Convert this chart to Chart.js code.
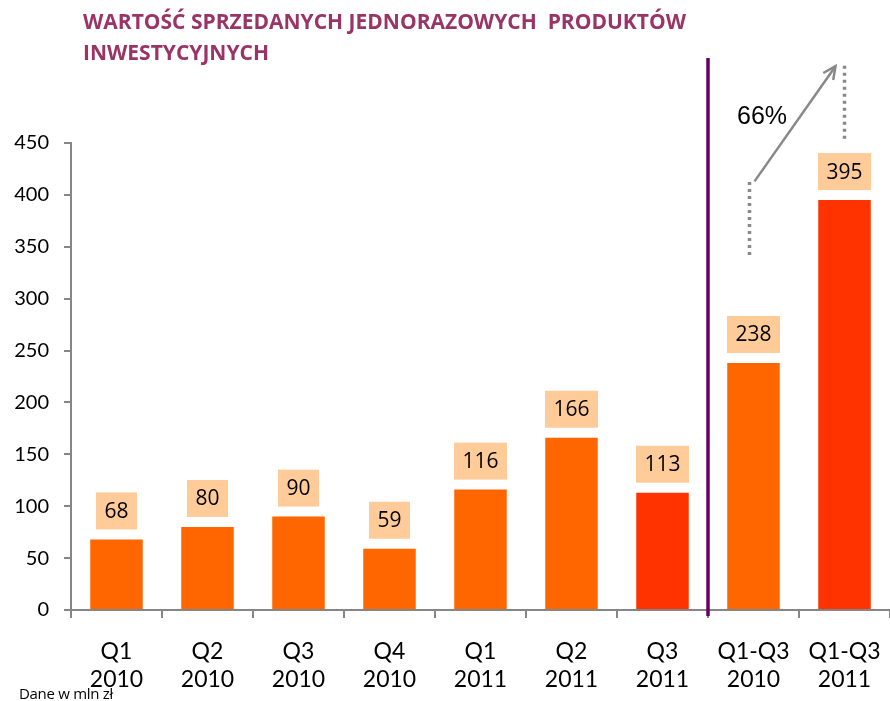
<!DOCTYPE html>
<html>
<head>
<meta charset="utf-8">
<script src="https://cdn.jsdelivr.net/npm/chart.js@4.4.1/dist/chart.umd.min.js"></script>
<style>
    body { margin: 0; background: #fff; }
    .wrap { position: relative; width: 890px; height: 701px; }
    .title {
        position: absolute; left: 83px; top: 6px;
        font-family: 'Open Sans', sans-serif; font-weight: 700; font-size: 21px;
        line-height: 31px; color: #9b3466; white-space: pre;
    }
    .note {
        position: absolute; left: 19px; top: 683px;
        font-family: 'Open Sans', sans-serif; font-size: 15px; color: #000;
        letter-spacing: -0.3px;
    }
</style>
</head>
<body>
<div class="wrap">
    <canvas id="salesChart" width="890" height="701"></canvas>
    <div class="title">WARTOŚĆ SPRZEDANYCH JEDNORAZOWYCH  PRODUKTÓW
INWESTYCYJNYCH</div>
    <div class="note">Dane w mln zł</div>
</div>
<script>
const periods = [["Q1", "2010"], ["Q2", "2010"], ["Q3", "2010"], ["Q4", "2010"], ["Q1", "2011"],
    ["Q2", "2011"], ["Q3", "2011"], ["Q1-Q3", "2010"], ["Q1-Q3", "2011"]];
const salesValues = [68, 80, 90, 59, 116, 166, 113, 238, 395];
const barColors = ["#ff6600", "#ff6600", "#ff6600", "#ff6600", "#ff6600", "#ff6600", "#ff3300", "#ff6600", "#ff3300"];
const yTicks = [0, 50, 100, 150, 200, 250, 300, 350, 400, 450];
const growthLabel = "66%";

// boxed value labels above each bar
const valueBoxes = {
    id: "valueBoxes",
    afterDatasetsDraw(chart) {
        const ctx = chart.ctx;
        const meta = chart.getDatasetMeta(0);
        ctx.save();
        ctx.font = "21px 'Open Sans'";
        ctx.textAlign = "center";
        ctx.textBaseline = "middle";
        meta.data.forEach((bar, i) => {
            const text = String(salesValues[i]);
            const w = ctx.measureText(text).width + 17;
            const h = 37;
            const bottom = bar.y - 10;
            ctx.fillStyle = "#ffcc99";
            ctx.fillRect(bar.x - w / 2, bottom - h, w, h);
            ctx.fillStyle = "#000";
            ctx.fillText(text, bar.x, bottom - h / 2 + 1);
        });
        ctx.restore();
    }
};

// separator line, dotted guides and growth arrow
const extras = {
    id: "extras",
    afterDraw(chart) {
        const ctx = chart.ctx;
        const x = chart.scales.x;
        const y = chart.scales.y;
        const sepX = (x.getPixelForValue(6) + x.getPixelForValue(7)) / 2;
        ctx.save();
        ctx.strokeStyle = "#660066";
        ctx.lineWidth = 3.5;
        ctx.beginPath();
        ctx.moveTo(sepX, 58);
        ctx.lineTo(sepX, y.bottom + 6);
        ctx.stroke();

        const lx = x.getPixelForValue(7) - 4;
        const rx = x.getPixelForValue(8);
        ctx.strokeStyle = "#888888";
        ctx.lineWidth = 3.5;
        ctx.setLineDash([3, 4]);
        ctx.beginPath();
        ctx.moveTo(lx, y.getPixelForValue(342));
        ctx.lineTo(lx, y.getPixelForValue(414));
        ctx.moveTo(rx, y.getPixelForValue(454));
        ctx.lineTo(rx, y.getPixelForValue(528));
        ctx.stroke();
        ctx.setLineDash([]);

        const ax1 = lx + 5, ay1 = y.getPixelForValue(413);
        const ax2 = rx - 9, ay2 = y.getPixelForValue(524);
        ctx.lineWidth = 2.5;
        ctx.beginPath();
        ctx.moveTo(ax1, ay1);
        ctx.lineTo(ax2, ay2);
        ctx.stroke();
        const ang = Math.atan2(ay2 - ay1, ax2 - ax1);
        const hl = 14;
        ctx.beginPath();
        ctx.moveTo(ax2 - hl * Math.cos(ang - 0.45), ay2 - hl * Math.sin(ang - 0.45));
        ctx.lineTo(ax2, ay2);
        ctx.lineTo(ax2 - hl * Math.cos(ang + 0.45), ay2 - hl * Math.sin(ang + 0.45));
        ctx.stroke();

        ctx.fillStyle = "#000";
        ctx.font = "25px 'Liberation Sans'";
        ctx.textAlign = "center";
        ctx.textBaseline = "middle";
        ctx.fillText(growthLabel, 762, 117);
        ctx.restore();
    }
};

Chart.defaults.font.family = "Lato, 'Liberation Sans', Arial, sans-serif";
Chart.defaults.color = "#000";

new Chart(document.getElementById("salesChart"), {
    type: "bar",
    data: {
        labels: periods,
        datasets: [{
            data: salesValues,
            backgroundColor: barColors,
            barPercentage: 0.577,
            categoryPercentage: 1
        }]
    },
    options: {
        responsive: false,
        animation: false,
        layout: { padding: { top: 143, left: 0, right: 0, bottom: 0 } },
        plugins: { legend: { display: false }, tooltip: { enabled: false } },
        scales: {
            x: {
                offset: true,
                grid: { offset: true, drawOnChartArea: false, tickLength: 8, color: "#868686", lineWidth: 2 },
                border: { color: "#868686", width: 2 },
                ticks: { font: { size: 23 }, padding: 20, maxRotation: 0, autoSkip: false },
                afterFit(scale) {
                    scale.height = 91;
                    scale.paddingLeft = 0;
                    scale.paddingRight = 0;
                }
            },
            y: {
                min: 0,
                max: 450,
                afterBuildTicks(scale) { scale.ticks = yTicks.map(v => ({ value: v })); },
                grid: { drawOnChartArea: false, tickLength: 7, color: "#868686", lineWidth: 2 },
                border: { color: "#868686", width: 2 },
                ticks: { font: { size: 20 }, padding: 15 },
                afterFit(scale) {
                    scale.width = 71;
                    scale.paddingTop = 0;
                    scale.paddingBottom = 0;
                }
            }
        }
    },
    plugins: [valueBoxes, extras]
});
</script>
</body>
</html>
